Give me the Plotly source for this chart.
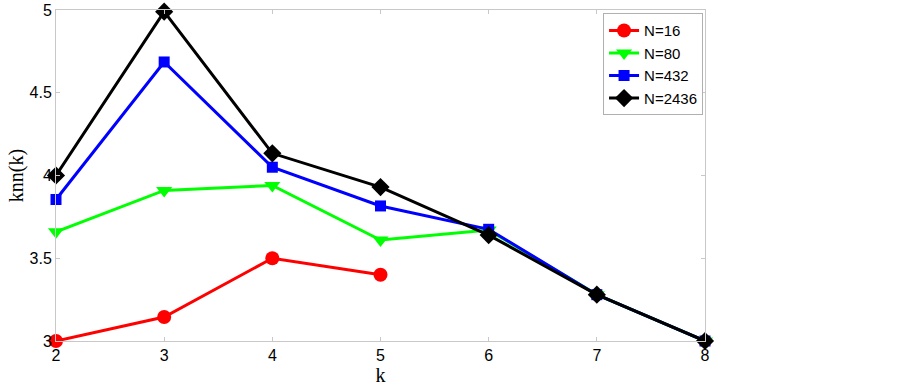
import plotly.graph_objects as go

k_16 = [2, 3, 4, 5]
knn_16 = [3.0, 3.145, 3.50, 3.40]

k_all = [2, 3, 4, 5, 6, 7, 8]
knn_80 = [3.66, 3.91, 3.94, 3.61, 3.67, 3.28, 3.0]
knn_432 = [3.855, 4.686, 4.05, 3.816, 3.675, 3.28, 3.0]
knn_2436 = [4.0, 4.99, 4.134, 3.93, 3.64, 3.28, 3.0]

series = [
    ("N=16", k_16, knn_16, "#ff0000", "circle", 14),
    ("N=80", k_all, knn_80, "#00ff00", "triangle-down", 14),
    ("N=432", k_all, knn_432, "#0000ff", "square", 11),
    ("N=2436", k_all, knn_2436, "#000000", "diamond", 14),
]

fig = go.Figure()
for name, xs, ys, col, sym, sz in series:
    fig.add_trace(go.Scatter(
        x=xs, y=ys, name=name, mode="lines+markers",
        line=dict(color=col, width=3),
        marker=dict(color=col, symbol=sym, size=sz),
        cliponaxis=False,
    ))

axis_common = dict(
    showgrid=False, zeroline=False, showline=True, linecolor="#c8c8c8",
    linewidth=1, mirror="ticks", ticks="inside", ticklen=4, tickcolor="#c8c8c8",
    tickfont=dict(family="Liberation Sans, Arial", size=16, color="black"),
    automargin=False, ticklabeloverflow="allow",
)

fig.update_layout(
    width=903, height=387,
    margin=dict(l=56, r=198, t=10, b=46, autoexpand=False),
    plot_bgcolor="white", paper_bgcolor="white",
    xaxis=dict(range=[2, 8], tickvals=[2, 3, 4, 5, 6, 7, 8],
               title=dict(text="k", font=dict(family="Liberation Serif, Times New Roman", size=20, color="black"), standoff=0),
               **axis_common),
    yaxis=dict(range=[3, 5], tickvals=[3, 3.5, 4, 4.5, 5],
               ticktext=["3", "3.5", "4", "4.5", "5"],
               title=dict(text="knn(k)", font=dict(family="Liberation Serif, Times New Roman", size=20, color="black"), standoff=0),
               **axis_common),
    legend=dict(x=0.997, y=0.99, xanchor="right", yanchor="top",
                bordercolor="#b0b0b0", borderwidth=1, bgcolor="white",
                font=dict(family="Liberation Sans, Arial", size=15, color="black"),
                tracegroupgap=0, itemwidth=30),
    showlegend=True,
)

# remove the browser's default 8px body margin so the figure sits at the page origin
fig.write_html("out.html", config={"displayModeBar": False},
               post_script="document.body.style.margin='0';")
